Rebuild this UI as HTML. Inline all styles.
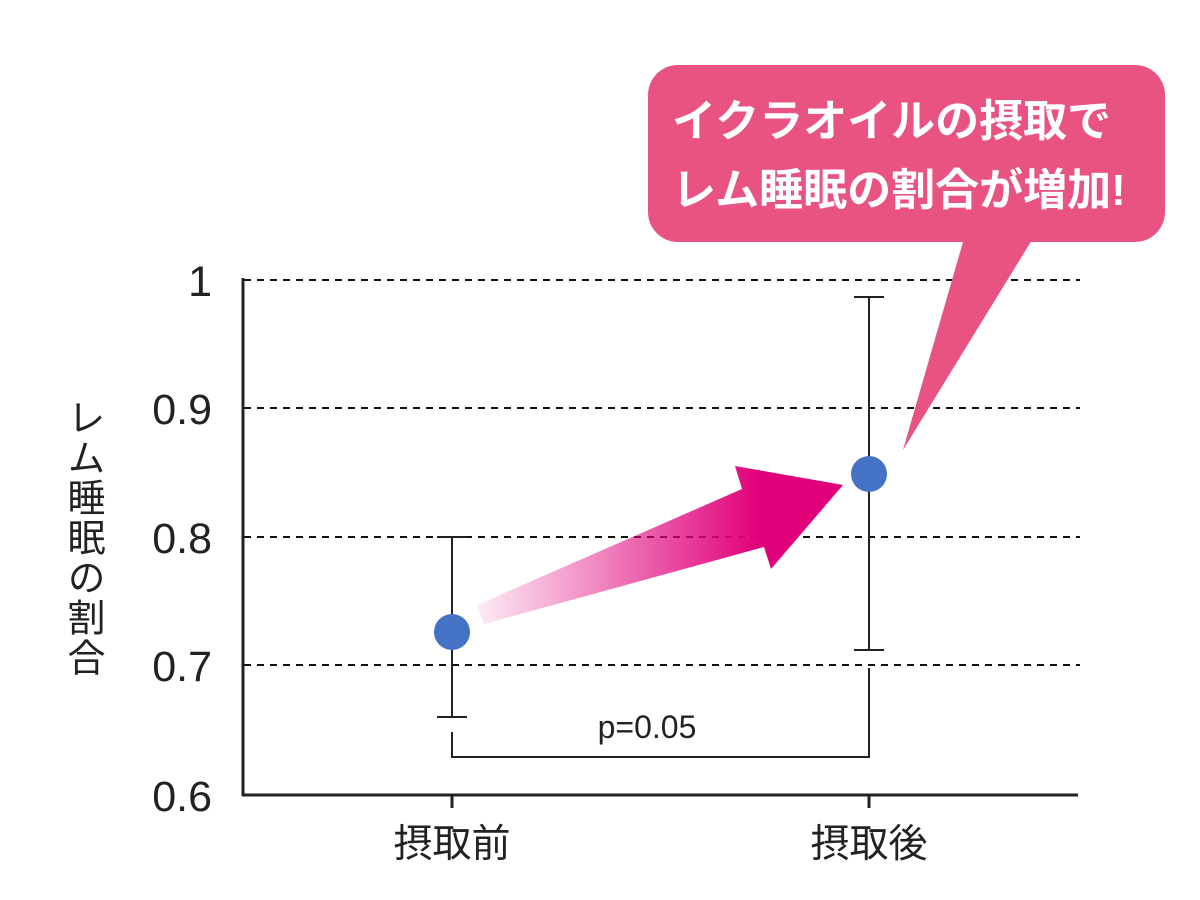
<!DOCTYPE html>
<html><head><meta charset="utf-8"><style>
html,body{margin:0;padding:0;background:#fff;width:1200px;height:900px;overflow:hidden}
</style></head><body>
<svg width="1200" height="900" viewBox="0 0 1200 900" xmlns="http://www.w3.org/2000/svg">
<defs>
<linearGradient id="g" x1="478" y1="0" x2="760" y2="0" gradientUnits="userSpaceOnUse">
<stop offset="0" stop-color="#e0007a" stop-opacity="0.08"/>
<stop offset="1" stop-color="#e0007a"/>
</linearGradient>
</defs>
<g stroke="#111" stroke-width="2" stroke-dasharray="7,6">
<line x1="244" y1="280" x2="1080" y2="280"/>
<line x1="244" y1="408" x2="1080" y2="408"/>
<line x1="244" y1="537" x2="1080" y2="537"/>
<line x1="244" y1="665" x2="1080" y2="665"/>
</g>
<g stroke="#222" stroke-width="3" fill="none">
<line x1="243" y1="278" x2="243" y2="796"/>
<line x1="242" y1="795" x2="1078" y2="795"/>
<line x1="452" y1="795" x2="452" y2="808"/>
<line x1="869" y1="795" x2="869" y2="808"/>
</g>
<g stroke="#222" stroke-width="2" fill="none">
<line x1="452" y1="537" x2="452" y2="717"/>
<line x1="437" y1="537" x2="467" y2="537"/>
<line x1="437" y1="717" x2="467" y2="717"/>
<line x1="869" y1="297" x2="869" y2="650"/>
<line x1="854" y1="297" x2="884" y2="297"/>
<line x1="854" y1="650" x2="884" y2="650"/>
<polyline points="452,732 452,757 869,757 869,668"/>
</g>
<polygon points="477,605 742,489 735,466 843,485 771,569 764,547 484,624" fill="url(#g)"/>
<circle cx="452" cy="632" r="18" fill="#4472c4"/>
<circle cx="869" cy="474" r="18" fill="#4472c4"/>
<g font-family="Liberation Sans, sans-serif" font-size="43" fill="#222" text-anchor="end">
<text x="212" y="296">1</text>
<text x="212" y="424">0.9</text>
<text x="212" y="553">0.8</text>
<text x="212" y="681">0.7</text>
<text x="212" y="811">0.6</text>
</g>
<text x="647" y="738" font-family="Liberation Sans, sans-serif" font-size="32" fill="#222" text-anchor="middle">p=0.05</text>
<g font-family="Liberation Sans, Noto Sans CJK JP, sans-serif" font-size="39" fill="#222" text-anchor="middle">
<text x="452" y="857">摂取前</text>
<text x="869" y="857">摂取後</text>
</g>
<text font-family="Liberation Sans, Noto Sans CJK JP, sans-serif" font-size="38" letter-spacing="2" fill="#222" writing-mode="tb" x="82" y="398">レム睡眠の割合</text>
<rect x="648" y="65" width="517" height="177" rx="30" fill="#e85381"/>
<polygon points="965,235 1035,235 903,450" fill="#e85381"/>
<g font-family="Liberation Sans, Noto Sans CJK JP, sans-serif" font-size="44" font-weight="bold" fill="#fff">
<text x="672" y="136">イクラオイルの摂取で</text>
<text x="672" y="205">レム睡眠の割合が増加!</text>
</g>
</svg>
</body></html>
